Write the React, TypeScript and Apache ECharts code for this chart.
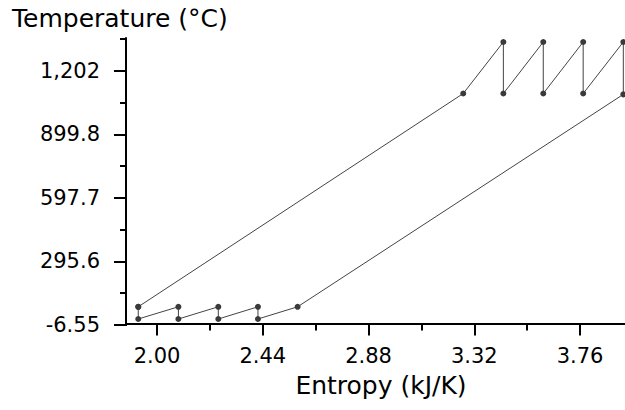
import React, { useEffect, useRef } from "react";
import * as echarts from "echarts";

// Closed cycle path (entropy kJ/K, temperature °C), in drawing order
const cycleEntropy = [1.922, 1.922, 2.089, 2.089, 2.255, 2.255, 2.42, 2.42, 2.585, 3.94, 3.94, 3.773, 3.773, 3.607, 3.607, 3.441, 3.441, 3.274, 1.922];
const cycleTemperature = [80, 22, 80, 22, 80, 22, 80, 22, 80, 1090, 1339, 1094, 1339, 1094, 1339, 1094, 1339, 1094, 80];

const xTickValues = [2.0, 2.44, 2.88, 3.32, 3.76];
const xTickLabels = ["2.00", "2.44", "2.88", "3.32", "3.76"];
const xMinorTicks = [2.22, 2.66, 3.1, 3.54];

const yTickValues = [-6.55, 295.6, 597.7, 899.8, 1202];
const yTickLabels = ["-6.55", "295.6", "597.7", "899.8", "1,202"];
const yMinorTicks = [144.5, 446.7, 748.8, 1050.9, 1353];

const xTitle = "Entropy (kJ/K)";
const yTitle = "Temperature (°C)";

const X_MIN = 1.871;
const X_MAX = 3.947;
const Y_MIN = -6.55;
const Y_MAX = 1358;

const FONT = "DejaVu Sans";

function lookup(values: number[], labels: string[], v: number) {
  const i = values.findIndex((t) => Math.abs(t - v) < 1e-6);
  return i >= 0 ? labels[i] : "";
}

export default function App() {
  const ref = useRef<HTMLDivElement>(null);
  useEffect(() => {
    if (!ref.current) return;
    const chart = echarts.init(ref.current, null, { renderer: "svg" });
    const data = cycleEntropy.map((s, i) => [s, cycleTemperature[i]]);
    chart.setOption({
      animation: false,
      backgroundColor: "#ffffff",
      grid: { left: 126, right: 0, top: 38, bottom: 85, containLabel: false },
      xAxis: [
        {
          type: "value",
          min: X_MIN,
          max: X_MAX,
          position: "bottom",
          axisLine: { show: true, lineStyle: { color: "#000", width: 2 } },
          axisTick: { show: true, length: 12, lineStyle: { color: "#000", width: 2 }, customValues: xTickValues },
          axisLabel: {
            show: true,
            customValues: xTickValues,
            formatter: (v: number) => lookup(xTickValues, xTickLabels, v),
            color: "#000",
            fontFamily: FONT,
            fontSize: 21,
            margin: 20,
          },
          splitLine: { show: false },
        },
        {
          type: "value",
          min: X_MIN,
          max: X_MAX,
          position: "bottom",
          axisLine: { show: false },
          axisTick: { show: true, length: 7, lineStyle: { color: "#000", width: 2 }, customValues: xMinorTicks },
          axisLabel: { show: false },
          splitLine: { show: false },
        },
      ],
      yAxis: [
        {
          type: "value",
          min: Y_MIN,
          max: Y_MAX,
          position: "left",
          axisLine: { show: true, lineStyle: { color: "#000", width: 2 } },
          axisTick: { show: true, length: 12, lineStyle: { color: "#000", width: 2 }, customValues: yTickValues },
          axisLabel: {
            show: true,
            customValues: yTickValues,
            formatter: (v: number) => lookup(yTickValues, yTickLabels, v),
            color: "#000",
            fontFamily: FONT,
            fontSize: 21,
            margin: 26,
          },
          splitLine: { show: false },
        },
        {
          type: "value",
          min: Y_MIN,
          max: Y_MAX,
          position: "left",
          axisLine: { show: false },
          axisTick: { show: true, length: 6, lineStyle: { color: "#000", width: 2 }, customValues: yMinorTicks },
          axisLabel: { show: false },
          splitLine: { show: false },
        },
      ],
      graphic: [
        { type: "line", shape: { x1: 114, y1: 325, x2: 127, y2: 325 }, style: { stroke: "#000", lineWidth: 2 } },
        { type: "text", left: 12, top: 6, style: { text: yTitle, fontFamily: FONT, fontSize: 25, fill: "#000" } },
        { type: "text", x: 381, y: 373, style: { text: xTitle, fontFamily: FONT, fontSize: 25, fill: "#000", align: "center", verticalAlign: "top" } },
      ],
      series: [
        {
          type: "line",
          xAxisIndex: 0,
          yAxisIndex: 0,
          data,
          symbol: "circle",
          symbolSize: 6,
          showSymbol: true,
          clip: false,
          lineStyle: { color: "#444", width: 1 },
          itemStyle: { color: "#3a3a3a" },
        },
      ],
    });
    return () => chart.dispose();
  }, []);
  return (
    <div style={{ position: "absolute", left: 0, top: 0, width: 625, height: 410, background: "#fff" }}>
      <div ref={ref} style={{ width: 625, height: 410 }} />
    </div>
  );
}
